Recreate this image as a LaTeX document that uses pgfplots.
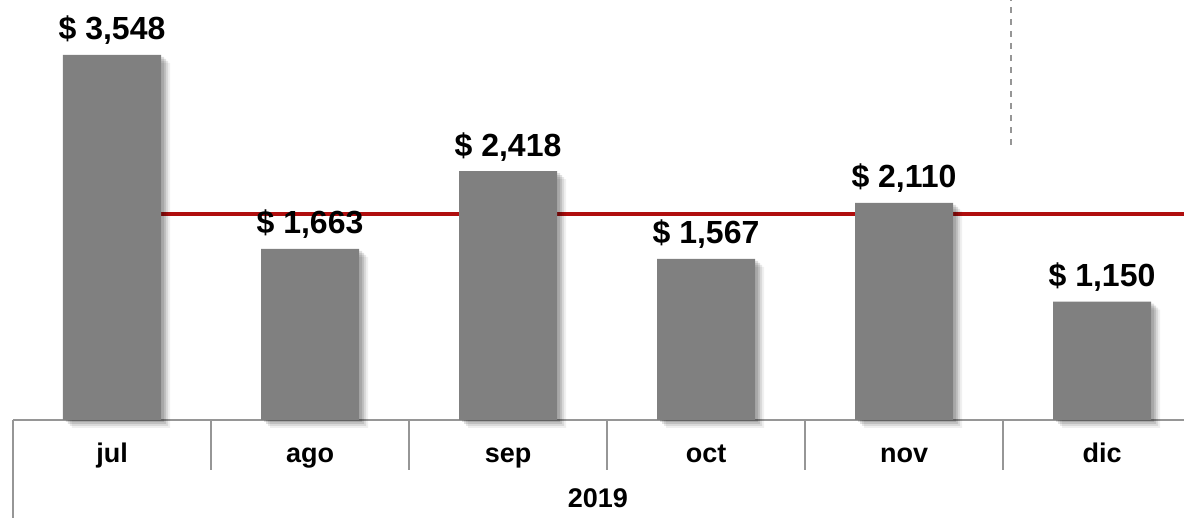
\documentclass[border=0pt]{standalone}
\usepackage{fontspec}
\setmainfont{Liberation Sans}
\usepackage{pgfplots}
\pgfplotsset{compat=1.18}
\definecolor{barg}{RGB}{128,128,128}
\definecolor{redl}{RGB}{176,14,14}
\definecolor{linegray}{RGB}{150,150,150}
\pgfplotstableread{
x y
0 3548
1 1663
2 2418
3 1567
4 2110
5 1150
}\bardata
\usepackage{pgfplotstable}
\begin{document}
\begin{tikzpicture}
\path[use as bounding box] (-6.5pt,-49pt) rectangle (585.5pt,210pt);
\begin{axis}[
  at={(0,0)}, anchor=south west, scale only axis,
  width=585.5pt, height=210pt,
  xmin=-0.5, xmax=5.414, ymin=0, ymax=4082,
  axis x line*=bottom, axis y line=none,
  x axis line style={linegray, line width=0.8pt},
  xtick={0,1,2,3,4,5},
  xticklabels={jul,ago,sep,oct,nov,dic},
  major tick length=0pt,
  xticklabel style={font=\bfseries\fontsize{13.5}{15}\selectfont, anchor=base, inner sep=0pt, yshift=-21.5pt},
  clip=false,
  bar width=0.495,
]
\addplot[redl, line width=2pt, forget plot] coordinates {(0,2000) (5.414,2000)};
\addplot[ybar, fill=black, fill opacity=0.12, draw=none, xshift=1.5pt, yshift=-1pt, forget plot] table[x=x,y=y] {\bardata};
\addplot[ybar, fill=black, fill opacity=0.12, draw=none, xshift=2.5pt, yshift=-2pt, forget plot] table[x=x,y=y] {\bardata};
\addplot[ybar, fill=black, fill opacity=0.09, draw=none, xshift=3.5pt, yshift=-3pt, forget plot] table[x=x,y=y] {\bardata};
\addplot[ybar, fill=black, fill opacity=0.06, draw=none, xshift=4.5pt, yshift=-4pt, forget plot] table[x=x,y=y] {\bardata};
\addplot[ybar, fill=barg, draw=none,
  nodes near coords={\$ \pgfmathprintnumber[assume math mode=true,1000 sep={,},fixed,precision=0]{\pgfplotspointmeta}},
  every node near coord/.append style={font=\bfseries\fontsize{16}{18}\selectfont, text=black, anchor=south, yshift=1.5pt},
] table[x=x,y=y] {\bardata};
\foreach \s in {0.5,1.5,2.5,3.5,4.5} {
  \edef\tmp{\noexpand\draw[linegray, line width=0.8pt] (axis cs:\s,0) -- ++(0pt,-25pt);}
  \tmp
}
\draw[linegray, line width=0.8pt] (axis cs:-0.5,0) -- ++(0pt,-50pt);
\node[font=\bfseries\fontsize{13.5}{15}\selectfont, anchor=base, inner sep=0pt] at (axis cs:2.454,0) [yshift=-44pt] {2019};
\draw[linegray, line width=0.8pt, dash pattern=on 3pt off 3pt] (axis cs:4.54,2673) -- (axis cs:4.54,4082);
\end{axis}
\end{tikzpicture}
\end{document}
